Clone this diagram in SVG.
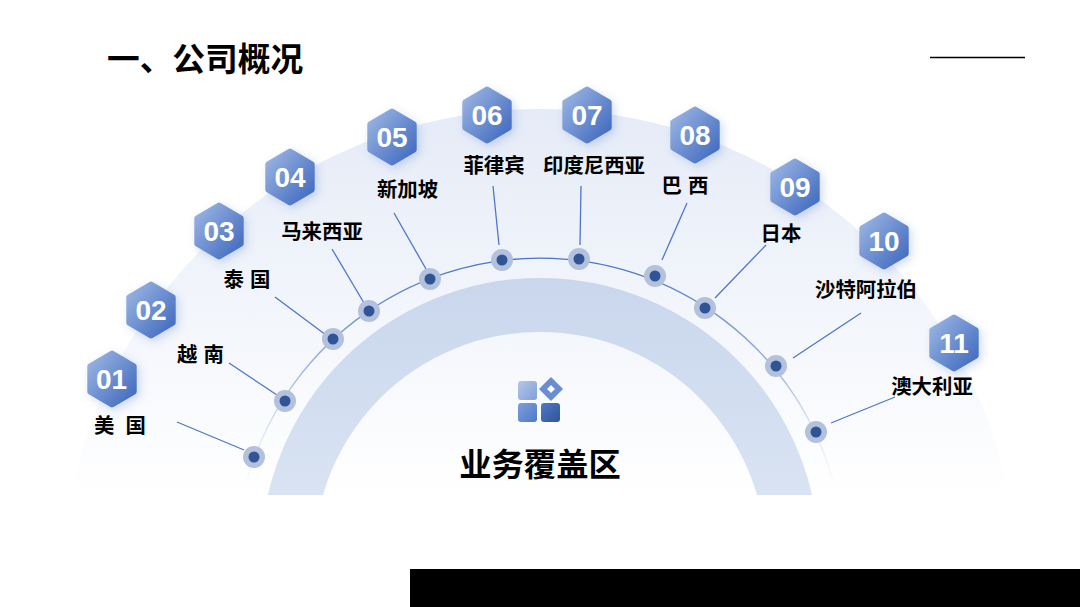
<svg xmlns="http://www.w3.org/2000/svg" width="1080" height="607" viewBox="0 0 1080 607">
<style>
text{font-family:"Noto Sans CJK SC","Liberation Sans",sans-serif;font-weight:700;fill:#000}
.lb{font-size:20.400px;text-anchor:middle}
.num{font-family:"Liberation Sans",Arial,sans-serif;font-size:28px;fill:#fff;text-anchor:middle}
.ld{stroke:#4f76c6;stroke-width:1.3;fill:none}
.halo{fill:#b3c1dc}
.dot{fill:#2f5597}
</style>
<defs>
<linearGradient id="disc" gradientUnits="userSpaceOnUse" x1="0" y1="109" x2="0" y2="495"><stop offset="0" stop-color="#e5ebf7"/><stop offset="1" stop-color="#fff"/></linearGradient>
<linearGradient id="band" gradientUnits="userSpaceOnUse" x1="0" y1="278" x2="0" y2="495"><stop offset="0" stop-color="#c9d6ec"/><stop offset="1" stop-color="#d9e3f3"/></linearGradient>
<linearGradient id="arc" gradientUnits="userSpaceOnUse" x1="0" y1="258" x2="0" y2="480"><stop offset="0" stop-color="#4a72c4"/><stop offset="0.5" stop-color="#9fb5e0"/><stop offset="1" stop-color="#dfe6f5" stop-opacity="0.2"/></linearGradient>
<linearGradient id="hex" x1="0.1" y1="0.1" x2="0.9" y2="0.85"><stop offset="0" stop-color="#93aedf"/><stop offset="1" stop-color="#4a72c3"/></linearGradient>
<linearGradient id="i1" x1="0" y1="0" x2="1" y2="1"><stop offset="0" stop-color="#b5c7e8"/><stop offset="1" stop-color="#7f9fda"/></linearGradient>
<linearGradient id="i2" x1="0" y1="0" x2="1" y2="1"><stop offset="0" stop-color="#7f9fdc"/><stop offset="1" stop-color="#4f78c8"/></linearGradient>
<linearGradient id="i3" x1="0" y1="0" x2="1" y2="1"><stop offset="0" stop-color="#4f78c8"/><stop offset="1" stop-color="#2f5597"/></linearGradient>
<filter id="sh" x="-50%" y="-50%" width="200%" height="200%"><feDropShadow dx="3" dy="3" stdDeviation="4.500" flood-color="#4a72c4" flood-opacity="0.25"/></filter>
<g id="hx"><path d="M-21.700,-12.700 L0,-25.400 L21.700,-12.700 L21.700,12.700 L0,25.400 L-21.700,12.700 Z" fill="url(#hex)" stroke="url(#hex)" stroke-width="6" stroke-linejoin="round" filter="url(#sh)"/></g>
<clipPath id="cut"><rect x="0" y="0" width="1080" height="495"/></clipPath>
</defs>
<rect width="1080" height="607" fill="#fff"/>
<g id="background" clip-path="url(#cut)">
<circle cx="540" cy="587" r="478" fill="url(#disc)"/>
<path fill-rule="evenodd" d="M540,278 A279,279 0 0 1 540,836 A279,279 0 0 1 540,278 Z M540,332 A226,226 0 0 1 540,784 A226,226 0 0 1 540,332 Z" fill="url(#band)"/>
</g>
<rect id="footer" x="410" y="569" width="670" height="38" fill="#000"/>
<line id="rule" x1="930" y1="57.500" x2="1025" y2="57.500" stroke="#000" stroke-width="1.500"/>
<text id="title" x="107" y="71" font-size="32.700">一、公司概况</text>
<g id="connectors">
<path d="M247.300,480 A304,304 0 0 1 832.700,480" fill="none" stroke="url(#arc)" stroke-width="1.400"/>
<line class="ld" x1="177" y1="422" x2="244" y2="450"/>
<line class="ld" x1="229" y1="363" x2="280" y2="397"/>
<line class="ld" x1="275" y1="297" x2="326" y2="335"/>
<line class="ld" x1="332" y1="249" x2="364" y2="303"/>
<line class="ld" x1="394" y1="213" x2="426" y2="269"/>
<line class="ld" x1="493" y1="186" x2="499" y2="245"/>
<line class="ld" x1="581" y1="186" x2="580" y2="245"/>
<line class="ld" x1="687" y1="203" x2="662" y2="260"/>
<line class="ld" x1="766" y1="245" x2="715" y2="298"/>
<line class="ld" x1="861" y1="313" x2="793" y2="358"/>
<line class="ld" x1="895" y1="397" x2="831" y2="423"/>
</g>
<g id="node-01"><use href="#hx" x="112" y="379"/><text class="num" x="111.500" y="389">01</text><text class="lb" x="120" y="433">美<tspan dx="11">国</tspan></text><circle class="halo" cx="254" cy="457" r="11"/><circle class="dot" cx="254" cy="457" r="5.500"/></g>
<g id="node-02"><use href="#hx" x="151" y="310"/><text class="num" x="151" y="320">02</text><text class="lb" x="200.500" y="362">越<tspan dx="6">南</tspan></text><circle class="halo" cx="285" cy="401" r="11"/><circle class="dot" cx="285" cy="401" r="5.500"/></g>
<g id="node-03"><use href="#hx" x="219" y="231"/><text class="num" x="219" y="241">03</text><text class="lb" x="247" y="287">泰<tspan dx="6">国</tspan></text><circle class="halo" cx="333" cy="339" r="11"/><circle class="dot" cx="333" cy="339" r="5.500"/></g>
<g id="node-04"><use href="#hx" x="290" y="177"/><text class="num" x="290" y="187">04</text><text class="lb" x="322" y="239">马来西亚</text><circle class="halo" cx="369" cy="311" r="11"/><circle class="dot" cx="369" cy="311" r="5.500"/></g>
<g id="node-05"><use href="#hx" x="392" y="137"/><text class="num" x="392" y="147">05</text><text class="lb" x="407.500" y="197">新加坡</text><circle class="halo" cx="430" cy="279" r="11"/><circle class="dot" cx="430" cy="279" r="5.500"/></g>
<g id="node-06"><use href="#hx" x="487" y="115"/><text class="num" x="487" y="125">06</text><text class="lb" x="494" y="173">菲律宾</text><circle class="halo" cx="502" cy="260" r="11"/><circle class="dot" cx="502" cy="260" r="5.500"/></g>
<g id="node-07"><use href="#hx" x="587" y="115"/><text class="num" x="587" y="125">07</text><text class="lb" x="594" y="173">印度尼西亚</text><circle class="halo" cx="579" cy="259" r="11"/><circle class="dot" cx="579" cy="259" r="5.500"/></g>
<g id="node-08"><use href="#hx" x="695" y="135"/><text class="num" x="695" y="145">08</text><text class="lb" x="685" y="193">巴<tspan dx="6">西</tspan></text><circle class="halo" cx="655" cy="276" r="11"/><circle class="dot" cx="655" cy="276" r="5.500"/></g>
<g id="node-09"><use href="#hx" x="795" y="187"/><text class="num" x="795" y="197">09</text><text class="lb" x="781" y="241">日本</text><circle class="halo" cx="705" cy="308" r="11"/><circle class="dot" cx="705" cy="308" r="5.500"/></g>
<g id="node-10"><use href="#hx" x="884" y="241"/><text class="num" x="884" y="251">10</text><text class="lb" x="866" y="297">沙特阿拉伯</text><circle class="halo" cx="776" cy="366" r="11"/><circle class="dot" cx="776" cy="366" r="5.500"/></g>
<g id="node-11"><use href="#hx" x="954" y="343"/><text class="num" x="954" y="353">11</text><text class="lb" x="932" y="394">澳大利亚</text><circle class="halo" cx="816" cy="432" r="11"/><circle class="dot" cx="816" cy="432" r="5.500"/></g>
<g id="center">
<rect x="518" y="381" width="19" height="19" rx="3" fill="url(#i1)"/>
<rect x="518" y="403" width="19" height="19" rx="3" fill="url(#i2)"/>
<rect x="541" y="403" width="19" height="19" rx="3" fill="url(#i3)"/>
<path fill-rule="evenodd" d="M551,378 L562,389 L551,400 L540,389 Z M551,384 L546,389 L551,394 L556,389 Z" fill="#6a8dd2" stroke="#6a8dd2" stroke-width="1.500" stroke-linejoin="round"/>
<text x="540" y="476" font-size="32.300" text-anchor="middle">业务覆盖区</text>
</g>
</svg>
